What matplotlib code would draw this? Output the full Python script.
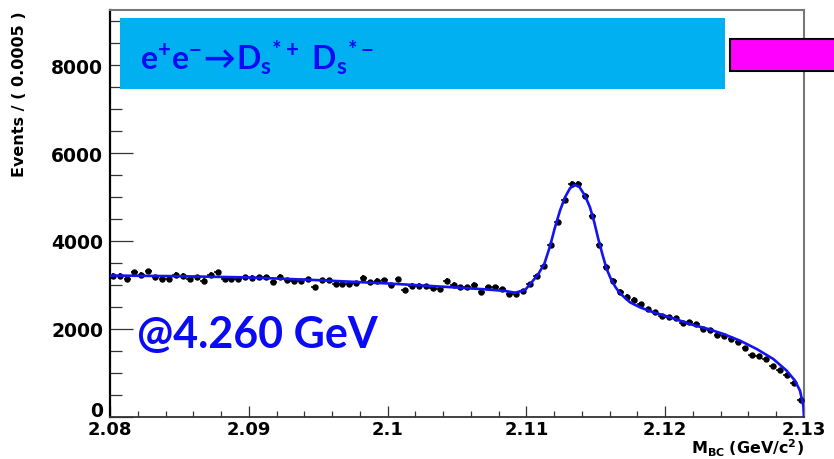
import numpy as np
import matplotlib
matplotlib.use("Agg")
import matplotlib.pyplot as plt
from matplotlib.patches import Rectangle
from matplotlib.ticker import MultipleLocator
from matplotlib.transforms import ScaledTranslation

plt.rcParams['mathtext.fontset'] = 'custom'
plt.rcParams['mathtext.bf'] = 'Lato:bold'
plt.rcParams['mathtext.rm'] = 'Lato:bold'
plt.rcParams['mathtext.it'] = 'Lato:bold'
plt.rcParams['mathtext.sf'] = 'DejaVu Sans:bold'
plt.rcParams['mathtext.fallback'] = 'stixsans'

# ---- data ----
bin_low = 2.08
bin_width = 0.0005
counts = [
    3212, 3212, 3137, 3288, 3235, 3311, 3175, 3137, 3137, 3235,
    3212, 3137, 3175, 3099, 3235, 3288, 3137, 3137, 3137, 3175,
    3160, 3175, 3175, 3061, 3190, 3114, 3084, 3084, 3137, 2947,
    3114, 3114, 3023, 3023, 3023, 3038, 3160, 3061, 3099, 3114,
    2995, 3137, 2887, 2985, 2985, 2970, 2932, 2900, 3095, 3008,
    2947, 2947, 3008, 2834, 2947, 2947, 2909, 2796, 2796, 2864,
    3023, 3198, 3425, 3905, 4425, 4940, 5296, 5296, 5016, 4576,
    3910, 3410, 3099, 2845, 2735, 2667, 2560, 2455, 2380, 2296,
    2278, 2255, 2145, 2167, 2105, 2000, 1985, 1875, 1848, 1765,
    1697, 1561, 1420, 1379, 1325, 1160, 1076, 947, 762, 380,
]
fit_x = [2.0800, 2.0850, 2.0900, 2.0950, 2.1000, 2.1046, 2.1070, 2.10846,
         2.10918, 2.1099, 2.11038, 2.11086, 2.11129, 2.1117, 2.11206,
         2.11242, 2.11278, 2.11314, 2.11345, 2.11379, 2.11422, 2.11458,
         2.11489, 2.11518, 2.11547, 2.11578, 2.11609, 2.11640, 2.11670,
         2.11698, 2.11746, 2.11818, 2.11914, 2.12011, 2.12107, 2.12202,
         2.12299, 2.12419, 2.12539, 2.12659, 2.12779, 2.12875, 2.12935,
         2.12971, 2.12995, 2.13000]
fit_y = [3215, 3200, 3172, 3110, 3035, 2950, 2902, 2865,
         2825, 2885, 3061, 3250, 3478, 3880, 4311,
         4690, 4993, 5198, 5273, 5243, 5030, 4766,
         4425, 4046, 3705, 3364, 3137, 2960, 2830,
         2743, 2607, 2493, 2380, 2289, 2190, 2091,
         2010, 1887, 1735, 1546, 1318, 1053, 826,
         599, 258, 0]
xticks = [2.08, 2.09, 2.10, 2.11, 2.12, 2.13]
xticklabels = ["2.08", "2.09", "2.1", "2.11", "2.12", "2.13"]
yticks = [0, 2000, 4000, 6000, 8000]
yticklabels = ["0", "2000", "4000", "6000", "8000"]

counts = np.array(counts, dtype=float)
centers = bin_low + (np.arange(len(counts)) + 0.5) * bin_width
errs = np.sqrt(counts)

W, H = 834, 460
fig = plt.figure(figsize=(W / 100, H / 100), dpi=100)
ax = fig.add_axes([110 / W, 1 - 418 / H, 694 / W, 407 / H])

ax.errorbar(centers, counts, yerr=errs, xerr=bin_width / 2, fmt='o',
            color='black', markersize=3.6, elinewidth=1.1, capsize=0, zorder=3)
ax.plot(fit_x, fit_y, color='#1414f0', lw=1.9, zorder=4)

ax.set_xlim(2.08, 2.13)
ax.set_ylim(0, 9250)
ax.set_xticks(xticks)
ax.set_xticklabels(xticklabels)
ax.set_yticks(yticks)
ax.set_yticklabels(yticklabels)
ax.xaxis.set_minor_locator(MultipleLocator(0.002))
ax.yaxis.set_minor_locator(MultipleLocator(500))

ax.tick_params(axis='y', which='major', direction='in', length=16.5, width=0.9,
               color='#333333', pad=5, labelsize=13.5)
ax.tick_params(axis='y', which='minor', direction='in', length=8.6, width=0.9,
               color='#333333')
ax.tick_params(axis='x', which='major', direction='in', length=8, width=0.9,
               color='#333333', pad=2.5, labelsize=13)
ax.tick_params(axis='x', which='minor', direction='in', length=4.3, width=0.9,
               color='#333333')
for lab in ax.get_xticklabels() + ax.get_yticklabels():
    lab.set_fontfamily('DejaVu Sans')
    lab.set_fontweight('bold')
# the "0" label sits slightly raised, as in the reference
zero_lab = ax.get_yticklabels()[0]
zero_lab.set_transform(zero_lab.get_transform() +
                       ScaledTranslation(0, 8 / 100, fig.dpi_scale_trans))

ax.spines['left'].set_color('black')
ax.spines['left'].set_linewidth(1.6)
ax.spines['bottom'].set_color('#333333')
ax.spines['bottom'].set_linewidth(1.3)
for s in ('top', 'right'):
    ax.spines[s].set_color('#777777')
    ax.spines[s].set_linewidth(1.5)

ax.set_ylabel('Events / ( 0.0005 )', fontsize=11.5, fontweight='bold',
              family='DejaVu Sans', loc='top')
ax.yaxis.set_label_coords(-0.12, 1.0)
ax.set_xlabel(r'$\mathsf{M_{BC}\ (GeV/c^{2})}$', fontsize=11.5, loc='right')
ax.xaxis.set_label_coords(1.0, -0.048)

# decorative boxes
fig.add_artist(Rectangle((120 / W, 1 - 90 / H), 605 / W, 71 / H,
                         transform=fig.transFigure, facecolor='#00b0f0',
                         edgecolor='none', zorder=5))
fig.add_artist(Rectangle((730 / W, 1 - 72 / H), 130 / W, 32 / H,
                         transform=fig.transFigure, facecolor='#ff00ff',
                         edgecolor='black', lw=1.5, zorder=5))

fig.text(140 / W, 1 - 70 / H,
         r'$\mathbf{e^{+}e^{-}\!\rightarrow\! D_{s}{}^{*+}\ D_{s}{}^{*-}}$',
         fontsize=23, color='#0a0af5', va='baseline', ha='left', zorder=6)
fig.text(137 / W, 1 - 348 / H, '@4.260 GeV', fontsize=31, fontweight='bold',
         family='Lato', color='#0a0af5', va='baseline', ha='left', zorder=6)

fig.savefig('out.png', dpi=100)
